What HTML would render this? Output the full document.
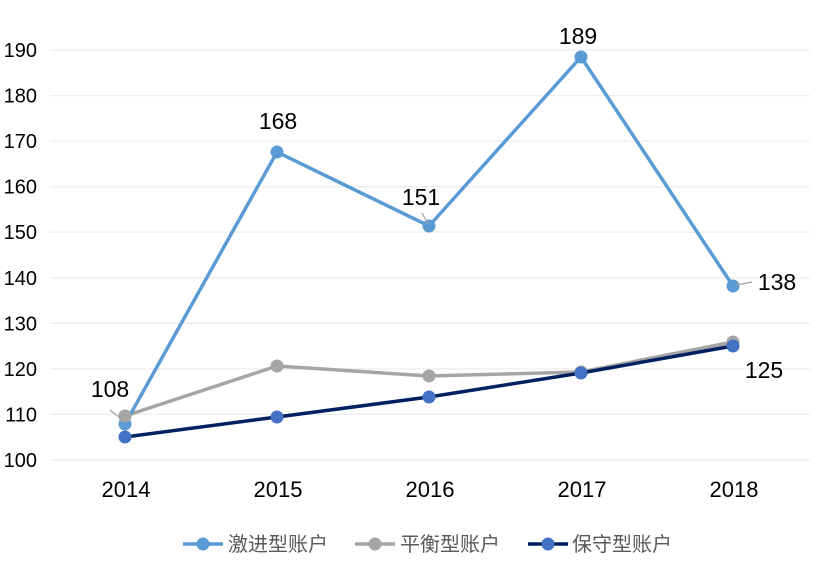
<!DOCTYPE html>
<html><head><meta charset="utf-8"><style>
html,body{margin:0;padding:0;background:#fff;}
svg text{font-family:"Liberation Sans","Noto Sans CJK SC",sans-serif;}
</style></head><body>
<svg width="821" height="580" viewBox="0 0 821 580" xmlns="http://www.w3.org/2000/svg">
<g stroke="#eeeeee" stroke-width="1.3">
<line x1="50" x2="810" y1="50" y2="50"/>
<line x1="50" x2="810" y1="95.6" y2="95.6"/>
<line x1="50" x2="810" y1="141.1" y2="141.1"/>
<line x1="50" x2="810" y1="186.7" y2="186.7"/>
<line x1="50" x2="810" y1="232.2" y2="232.2"/>
<line x1="50" x2="810" y1="277.8" y2="277.8"/>
<line x1="50" x2="810" y1="323.3" y2="323.3"/>
<line x1="50" x2="810" y1="368.9" y2="368.9"/>
<line x1="50" x2="810" y1="414.4" y2="414.4"/>
<line x1="50" x2="810" y1="460" y2="460"/>
</g>
<g font-size="20" fill="#000" text-anchor="end">
<text x="37" y="57">190</text><text x="37" y="102.6">180</text><text x="37" y="148.1">170</text>
<text x="37" y="193.7">160</text><text x="37" y="239.2">150</text><text x="37" y="284.8">140</text>
<text x="37" y="330.3">130</text><text x="37" y="375.9">120</text><text x="37" y="421.4">110</text>
<text x="37" y="467">100</text>
</g>
<g font-size="22" fill="#000" text-anchor="middle">
<text x="126" y="497">2014</text><text x="278" y="497">2015</text><text x="430" y="497">2016</text>
<text x="582" y="497">2017</text><text x="734" y="497">2018</text>
</g>
<!-- gray -->
<polyline fill="none" stroke="#A5A5A5" stroke-width="3.5" points="125,416 277,366 429,376 581,372 733,342"/>
<g fill="#A5A5A5"><circle cx="125" cy="416" r="6.5"/><circle cx="277" cy="366" r="6.5"/><circle cx="429" cy="376" r="6.5"/><circle cx="581" cy="372" r="6.5"/><circle cx="733" cy="342" r="6.5"/></g>
<!-- dark -->
<polyline fill="none" stroke="#002060" stroke-width="3.5" points="125,437 277,417 429,397 581,373 733,346"/>
<g fill="#4472C4"><circle cx="125" cy="437" r="6.5"/><circle cx="277" cy="417" r="6.5"/><circle cx="429" cy="397" r="6.5"/><circle cx="581" cy="373" r="6.5"/><circle cx="733" cy="346" r="6.5"/></g>
<!-- blue -->
<polyline fill="none" stroke="#5B9BD5" stroke-width="3.5" points="125,424 277,152 429,226 581,57 733,286"/>
<g fill="#5B9BD5"><circle cx="125" cy="424" r="6.5"/><circle cx="277" cy="152" r="6.5"/><circle cx="429" cy="226" r="6.5"/><circle cx="581" cy="57" r="6.5"/><circle cx="733" cy="286" r="6.5"/></g>
<circle cx="125" cy="416" r="6.5" fill="#A5A5A5"/>
<g stroke="#A5A5A5" stroke-width="1.3">
<line x1="110" y1="410" x2="120" y2="418"/>
<line x1="422" y1="213" x2="428" y2="224"/>
<line x1="736" y1="285" x2="752" y2="282"/>
</g>
<g font-size="23" fill="#000" text-anchor="middle">
<text x="110" y="397">108</text><text x="278" y="129">168</text><text x="421" y="205">151</text>
<text x="578" y="44">189</text><text x="777" y="290">138</text><text x="764" y="378">125</text>
</g>
<g font-size="20" fill="#595959">
<line x1="183" x2="223" y1="544" y2="544" stroke="#5B9BD5" stroke-width="3.5"/><circle cx="203" cy="544" r="6.5" fill="#5B9BD5"/>
<text x="228" y="551">激进型账户</text>
<line x1="355" x2="395" y1="544" y2="544" stroke="#A5A5A5" stroke-width="3.5"/><circle cx="375" cy="544" r="6.5" fill="#A5A5A5"/>
<text x="400" y="551">平衡型账户</text>
<line x1="528" x2="568" y1="544" y2="544" stroke="#002060" stroke-width="3.5"/><circle cx="548" cy="544" r="6.5" fill="#4472C4"/>
<text x="572" y="551">保守型账户</text>
</g>
</svg>
</body></html>
